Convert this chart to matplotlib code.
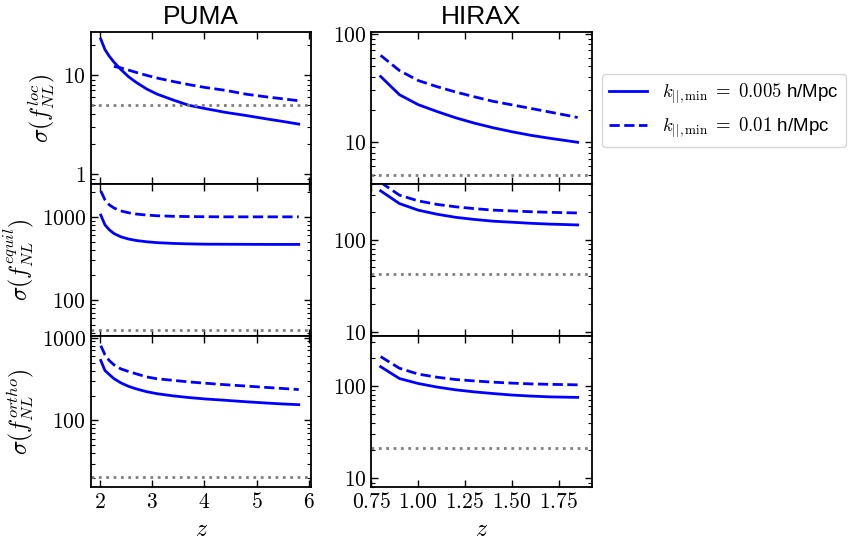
import matplotlib

matplotlib.use("Agg")
import matplotlib.pyplot as plt
import numpy as np
from matplotlib.lines import Line2D
from matplotlib.ticker import FuncFormatter, MultipleLocator, NullFormatter

plt.rcParams["font.family"] = ["Liberation Sans", "DejaVu Sans"]
plt.rcParams["mathtext.fontset"] = "cm"

# redshift bins
z_puma = [2.02, 2.1, 2.18, 2.27, 2.4, 2.55, 2.7, 2.9, 3.1, 3.4, 3.7, 4.0, 4.4, 4.8, 5.2, 5.5, 5.8]
z_hirax = [0.8, 0.9, 1.0, 1.1, 1.2, 1.3, 1.4, 1.5, 1.6, 1.7, 1.8, 1.85]

# PUMA, k_par_min = 0.005 (solid) and 0.01 (dashed)
puma_loc_005 = [23, 18, 15.5, 13.5, 11.4, 9.6, 8.4, 7.2, 6.4, 5.6, 4.95, 4.6, 4.2, 3.9, 3.6, 3.4, 3.2]
puma_loc_01 = [np.nan, np.nan, np.nan, 12.2, 11.8, 11.2, 10.6, 9.9, 9.3, 8.6, 8.0, 7.5, 7.0, 6.4, 6.0, 5.75, 5.5]
puma_equil_005 = [1050, 800, 700, 630, 575, 540, 518, 500, 488, 478, 472, 468, 467, 466, 465, 465, 465]
puma_equil_01 = [2050, 1600, 1400, 1280, 1180, 1120, 1080, 1050, 1030, 1015, 1008, 1003, 1000, 1000, 1000, 1000, 1000]
puma_ortho_005 = [530, 400, 360, 320, 285, 258, 240, 222, 210, 198, 189, 182, 175, 168, 162, 158, 155]
puma_ortho_01 = [800, 620, 530, 470, 420, 390, 365, 335, 318, 305, 292, 282, 270, 260, 250, 243, 236]

# HIRAX
hirax_loc_005 = [40.3, 27.4, 22.2, 19.2, 16.8, 15.0, 13.6, 12.5, 11.6, 10.9, 10.3, 10.0]
hirax_loc_01 = [63, 45.7, 37, 32.5, 29, 26.2, 23.8, 22.1, 20.5, 19.0, 17.6, 16.9]
hirax_equil_005 = [336, 245, 208, 188, 174, 165, 158, 154, 150, 147, 145, 144]
hirax_equil_01 = [415, 302, 262, 240, 226, 216, 208, 204, 200, 197, 195, 194]
hirax_ortho_005 = [161, 120, 106, 97, 90.5, 86, 82.5, 79.5, 77.5, 76, 75.3, 75]
hirax_ortho_01 = [207, 155, 134, 124, 117, 113, 109.5, 107, 105, 103.8, 103, 102.5]

# reference sigma(f_NL) levels (dotted lines), one per shape
fnl_ref = [5, 43, 21]

shapes = ["loc", "equil", "ortho"]
puma_ylims = [(0.8, 27), (37, 2500), (15.6, 1060)]
hirax_ylims = [(4.15, 103), (9.2, 400), (8, 350)]


def setup_axis(ax):
    ax.set_yscale("log")
    ax.tick_params(which="both", direction="in", top=True, right=True, labelsize=15.5)
    ax.tick_params(which="major", length=5, width=1)
    ax.tick_params(which="minor", length=3, width=0.8)
    ax.yaxis.set_major_formatter(FuncFormatter(lambda v, p: f"${v:g}$"))
    ax.yaxis.set_minor_formatter(NullFormatter())
    for s in ax.spines.values():
        s.set_linewidth(1.3)


fig, axes = plt.subplots(3, 2, figsize=(8.49, 5.45), dpi=100, sharex="col")
fig.subplots_adjust(left=0.107, right=0.697, top=0.941, bottom=0.106, hspace=0, wspace=0.272)

puma = [(puma_loc_005, puma_loc_01), (puma_equil_005, puma_equil_01), (puma_ortho_005, puma_ortho_01)]
hirax = [(hirax_loc_005, hirax_loc_01), (hirax_equil_005, hirax_equil_01), (hirax_ortho_005, hirax_ortho_01)]

for i in range(3):
    for j, (z, data, ylims) in enumerate(((z_puma, puma, puma_ylims), (z_hirax, hirax, hirax_ylims))):
        ax = axes[i, j]
        setup_axis(ax)
        ax.plot(z, data[i][0], color="blue", lw=2, ls="-")
        ax.plot(z, data[i][1], color="blue", lw=2, ls="--")
        ax.axhline(fnl_ref[i], color="gray", ls=":", lw=2)
        ax.set_ylim(*ylims[i])
    axes[i, 0].set_ylabel(r"$\sigma(f_{NL}^{%s})$" % shapes[i], fontsize=17)

axes[0, 0].set_title("PUMA", fontsize=19)
axes[0, 1].set_title("HIRAX", fontsize=19)

axes[2, 0].set_xlim(1.83, 6.04)
axes[2, 0].xaxis.set_major_locator(MultipleLocator(1))
axes[2, 0].xaxis.set_major_formatter(FuncFormatter(lambda v, p: f"${v:g}$"))
axes[2, 1].set_xlim(0.75, 1.925)
axes[2, 1].xaxis.set_major_locator(MultipleLocator(0.25))
axes[2, 1].xaxis.set_major_formatter(FuncFormatter(lambda v, p: f"${v:.2f}$"))
for ax in axes[2]:
    ax.set_xlabel(r"$z$", fontsize=17)

handles = [
    Line2D([], [], color="blue", lw=2, ls="-"),
    Line2D([], [], color="blue", lw=2, ls="--"),
]
labels = [r"$k_{||,\rm min}\;=\;0.005$ h/Mpc", r"$k_{||,\rm min}\;=\;0.01$ h/Mpc"]
fig.legend(handles, labels, loc="upper left", bbox_to_anchor=(0.709, 0.864),
           borderaxespad=0, fontsize=13.5)

fig.savefig("out.png", dpi=100)
